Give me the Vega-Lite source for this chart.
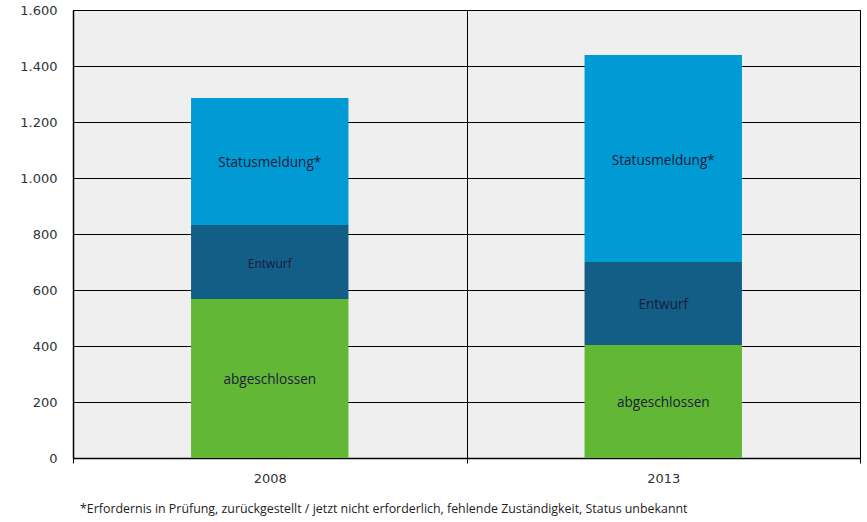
{
  "$schema": "https://vega.github.io/schema/vega-lite/v6.json",
  "width": 787,
  "height": 448,
  "autosize": {"type": "none"},
  "padding": {"left": 73, "top": 10, "right": 7, "bottom": 64},
  "background": "white",
  "title": {
    "text": "*Erfordernis  in Prüfung, zurückgestellt / jetzt nicht erforderlich, fehlende Zuständigkeit, Status unbekannt",
    "orient": "bottom",
    "anchor": "start",
    "frame": "group",
    "offset": 18,
    "dx": 7,
    "font": "Open Sans",
    "fontSize": 12.4,
    "fontWeight": "normal",
    "color": "#222222"
  },
  "config": {
    "locale": {"number": {"decimal": ",", "thousands": ".", "grouping": [3], "currency": ["", " €"]}},
    "view": {"fill": "#efefef", "stroke": "#000000", "strokeWidth": 1}
  },
  "data": {
    "values": [
      {"year": "2008", "status": "abgeschlossen", "value": 568, "order": 1, "label": "abgeschlossen", "small": 0},
      {"year": "2008", "status": "Entwurf", "value": 264, "order": 2, "label": "Entwurf", "small": 1},
      {"year": "2008", "status": "Statusmeldung*", "value": 454, "order": 3, "label": "Statusmeldung*", "small": 0},
      {"year": "2013", "status": "abgeschlossen", "value": 404, "order": 1, "label": "abgeschlossen", "small": 0},
      {"year": "2013", "status": "Entwurf", "value": 296, "order": 2, "label": "Entwurf", "small": 0},
      {"year": "2013", "status": "Statusmeldung*", "value": 739, "order": 3, "label": "Statusmeldung*", "small": 0}
    ]
  },
  "transform": [
    {"stack": "value", "groupby": ["year"], "sort": [{"field": "order", "order": "ascending"}], "as": ["v0", "v1"]},
    {"calculate": "(datum.v0 + datum.v1) / 2", "as": "mid"}
  ],
  "encoding": {
    "x": {
      "field": "year",
      "type": "nominal",
      "scale": {"paddingInner": 0, "paddingOuter": 0},
      "axis": {
        "title": null,
        "labelAngle": 0,
        "tickBand": "extent",
        "grid": true,
        "gridColor": "#000000",
        "gridWidth": 1,
        "gridOpacity": 1,
        "domainColor": "#000000",
        "domainWidth": 1.5,
        "tickColor": "#000000",
        "tickSize": 5,
        "labelFont": "DejaVu Sans",
        "labelFontSize": 13,
        "labelColor": "#333333",
        "labelPadding": 9
      }
    }
  },
  "layer": [
    {
      "mark": {"type": "bar", "width": {"band": 0.4}},
      "encoding": {
        "y": {
          "field": "v0",
          "type": "quantitative",
          "scale": {"domain": [0, 1600]},
          "axis": {
            "title": null,
            "values": [0, 200, 400, 600, 800, 1000, 1200, 1400, 1600],
            "format": ",d",
            "grid": true,
            "gridColor": "#000000",
            "gridWidth": 1,
            "gridOpacity": 1,
            "domainColor": "#000000",
            "domainWidth": 1.5,
            "ticks": false,
            "labelPadding": 16,
            "labelFont": "DejaVu Sans",
            "labelFontSize": 13,
            "labelColor": "#333333"
          }
        },
        "y2": {"field": "v1"},
        "color": {
          "field": "status",
          "type": "nominal",
          "legend": null,
          "scale": {
            "domain": ["abgeschlossen", "Entwurf", "Statusmeldung*"],
            "range": ["#62b835", "#135e87", "#009ad4"]
          }
        }
      }
    },
    {
      "mark": {"type": "text", "font": "Open Sans", "color": "#1b1b3a", "baseline": "middle", "dy": 2},
      "encoding": {
        "y": {"field": "mid", "type": "quantitative"},
        "text": {"field": "label"},
        "size": {"field": "small", "type": "nominal", "legend": null, "scale": {"domain": [0, 1], "range": [13.6, 12]}}
      }
    }
  ]
}
